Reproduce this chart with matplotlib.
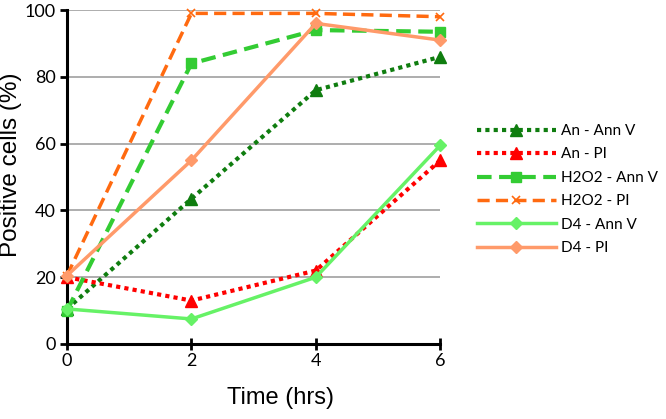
import matplotlib
matplotlib.use("Agg")
import matplotlib.pyplot as plt

time_hrs = [0, 2, 4, 6]
an_annv = [10.5, 43.5, 76, 86]
an_pi = [20, 13, 22, 55]
h2o2_annv = [10, 84, 94, 93.5]
h2o2_pi = [20.5, 99, 99, 98]
d4_annv = [10.5, 7.5, 20, 59.5]
d4_pi = [20.5, 55, 96, 91]
labels = ["An - Ann V", "An - PI", "H2O2 - Ann V", "H2O2 - PI", "D4 - Ann V", "D4 - PI"]
yticks = [0, 20, 40, 60, 80, 100]
xticks = [0, 2, 4, 6]

plt.rcParams['font.family'] = ['Liberation Sans', 'DejaVu Sans']
fig = plt.figure(figsize=(6.66, 4.19), dpi=100)
ax = fig.add_axes([0.1006, 0.179, 0.5605, 0.797])

ax.plot(time_hrs, an_annv, color='#0f7d0f', ls=(0, (1, 1)), lw=3, marker='^', ms=8, label=labels[0], clip_on=False, zorder=3)
ax.plot(time_hrs, an_pi, color='#ff0000', ls=(0, (1, 1)), lw=3, marker='^', ms=8, label=labels[1], clip_on=False, zorder=3)
ax.plot(time_hrs, h2o2_annv, color='#33cc33', ls=(0, (3.5, 1.8)), lw=3, marker='s', ms=7, label=labels[2], clip_on=False, zorder=3)
ax.plot(time_hrs, h2o2_pi, color='#ff6a10', ls=(0, (3.5, 1.8)), lw=2.5, marker='x', ms=6, mew=1.2, label=labels[3], clip_on=False, zorder=3)
ax.plot(time_hrs, d4_annv, color='#66f266', ls='-', lw=2.5, marker='D', ms=6, label=labels[4], clip_on=False, zorder=3)
ax.plot(time_hrs, d4_pi, color='#ff9a6a', ls='-', lw=2.5, marker='D', ms=6, label=labels[5], clip_on=False, zorder=3)

ax.set_xlim(0, 6)
ax.set_ylim(0, 100)
ax.set_xticks(xticks)
ax.set_yticks(yticks)
ax.grid(axis='y', color='#a0a0a0', lw=1.2)
ax.set_axisbelow(True)
for s in ['top', 'right']:
    ax.spines[s].set_visible(False)
for s in ['left', 'bottom']:
    ax.spines[s].set_linewidth(2.2)
    ax.spines[s].set_color('black')
ax.tick_params(axis='y', direction='out', length=5, width=2, labelsize=13, pad=3)
ax.tick_params(axis='x', direction='inout', length=9, width=2, labelsize=13, pad=2)
for t in ax.get_xticklabels() + ax.get_yticklabels():
    t.set_family(['Lato', 'DejaVu Sans'])
ax.set_xlabel('Time (hrs)', fontsize=17)
ax.xaxis.set_label_coords(0.571, -0.13)
fig.text(0.0, 0.606, 'Positive cells (%)', rotation=90, ha='left', va='center', fontsize=17.5)

leg = fig.legend(loc='upper left', bbox_to_anchor=(0.695, 0.737), frameon=False,
                 handlelength=5.2, handletextpad=0.3, labelspacing=0.62,
                 prop={'family': 'Lato', 'size': 11})

fig.savefig('out.png', dpi=100)
